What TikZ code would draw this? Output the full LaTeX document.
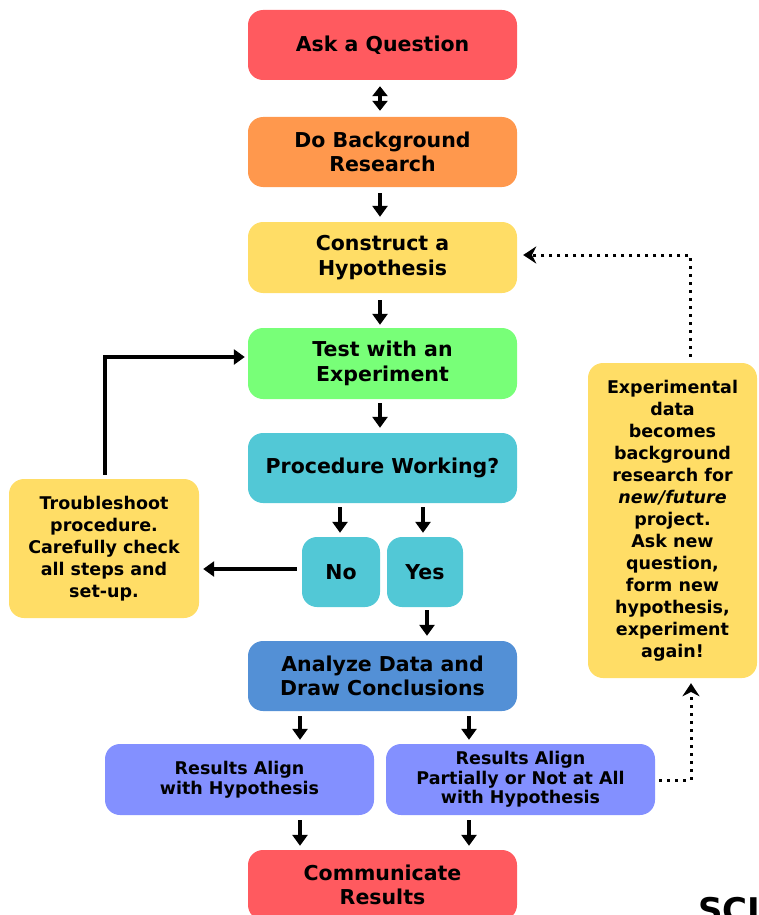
\documentclass[tikz,border=0pt]{standalone}
\usepackage{fontspec}
\setmainfont{DejaVu Sans}
\usetikzlibrary{arrows.meta,calc}
\definecolor{cRed}{RGB}{255,90,95}
\definecolor{cOrange}{RGB}{255,152,77}
\definecolor{cYellow}{RGB}{255,221,102}
\definecolor{cGreen}{RGB}{120,255,120}
\definecolor{cTeal}{RGB}{82,200,214}
\definecolor{cBlue}{RGB}{83,144,214}
\definecolor{cPeri}{RGB}{131,144,255}
\begin{document}
\begin{tikzpicture}[x=1pt,y=-1pt,
  box/.style={rounded corners=15pt, inner sep=0pt, align=center,
    font=\bfseries\fontsize{20.5}{24.5}\selectfont,
    minimum width=269pt, minimum height=70pt},
  smallbox/.style={box, font=\bfseries\fontsize{17.5}{19.5}\selectfont},
  notebox/.style={box, font=\bfseries\fontsize{17.5}{22}\selectfont},
  arr/.style={line width=3.2pt, -{Triangle[width=15pt,length=11pt]}},
  dblarr/.style={line width=3.2pt, {Triangle[width=15pt,length=10pt]}-{Triangle[width=15pt,length=10pt]}},
  dotarr/.style={line width=3pt, dash pattern=on 3pt off 5pt, -{Stealth[width=17pt,length=13pt]}}
]
\useasboundingbox (0,0) rectangle (759,915);
\clip (0,0) rectangle (759,915);

\node[box, fill=cRed] (ask) at (382.5,45) {Ask a Question};
\node[box, fill=cOrange] (bg) at (382.5,152) {Do Background\\Research};
\node[box, fill=cYellow, minimum height=71pt] (hyp) at (382.5,257.5) {Construct a\\Hypothesis};
\node[box, fill=cGreen, minimum height=71pt] (test) at (382.5,363.5) {Test with an\\Experiment};
\node[box, fill=cTeal] (proc) at (382.5,468) {Procedure Working?};
\node[box, fill=cTeal, minimum width=78pt] (no) at (341,572) {No};
\node[box, fill=cTeal, minimum width=76pt] (yes) at (425,572) {Yes};
\node[notebox, fill=cYellow, minimum width=190pt, minimum height=139pt] (trouble) at (104,548.5)
  {Troubleshoot\\procedure.\\Carefully check\\all steps and\\set-up.};
\node[box, fill=cBlue] (analyze) at (382.5,676) {Analyze Data and\\Draw Conclusions};
\node[smallbox, fill=cPeri, minimum height=71pt] (resL) at (239.5,779.5) {Results Align\\with Hypothesis};
\node[smallbox, fill=cPeri, minimum height=71pt] (resR) at (520.5,779.5) {Results Align\\Partially or Not at All\\with Hypothesis};
\node[box, fill=cRed] (comm) at (382.5,885) {Communicate\\Results};
\node[notebox, fill=cYellow, minimum width=169pt, minimum height=315pt] (exp) at (672.5,520.5)
  {Experimental\\data\\becomes\\background\\research for\\\textit{new/future}\\project.\\Ask new\\question,\\form new\\hypothesis,\\experiment\\again!};
\node[anchor=north west, inner sep=0pt, font=\bfseries\fontsize{34}{34}\selectfont] (sci) at (698,897) {SCI};

\draw[dblarr, shorten <=6pt, shorten >=6pt] ([xshift=-2.5pt]ask.south) -- ([xshift=-2.5pt]bg.north);
\draw[arr, shorten <=6pt, shorten >=5pt] ([xshift=-2.5pt]bg.south) -- ([xshift=-2.5pt]hyp.north);
\draw[arr, shorten <=7pt, shorten >=3pt] ([xshift=-2.5pt]hyp.south) -- ([xshift=-2.5pt]test.north);
\draw[arr, shorten <=4pt, shorten >=5pt] ([xshift=-2.5pt]test.south) -- ([xshift=-2.5pt]proc.north);
\draw[arr, shorten <=4pt, shorten >=4pt] ([xshift=-1pt]no.north |- proc.south) -- ([xshift=-1pt]no.north);
\draw[arr, shorten <=4pt, shorten >=4pt] ([xshift=-2pt]yes.north |- proc.south) -- ([xshift=-2pt]yes.north);
\draw[arr, shorten <=3pt, shorten >=5pt] ([xshift=2pt]yes.south) -- ([xshift=2pt]yes.south |- analyze.north);
\draw[arr, shorten <=5pt, shorten >=4pt] ([yshift=3pt]no.west) -- ([yshift=3pt]no.west -| trouble.east);
\draw[arr, shorten <=4pt, shorten >=3pt] ([xshift=1pt]trouble.north) |- ([yshift=6.5pt]test.west);
\draw[arr, shorten <=5pt, shorten >=4pt] ([xshift=-82.5pt]analyze.south) -- ([xshift=-82.5pt]analyze.south |- resL.north);
\draw[arr, shorten <=5pt, shorten >=4pt] ([xshift=86.5pt]analyze.south) -- ([xshift=86.5pt]analyze.south |- resR.north);
\draw[arr, shorten <=5pt, shorten >=4pt] ([xshift=-82.5pt]comm.north |- resL.south) -- ([xshift=-82.5pt]comm.north);
\draw[arr, shorten <=5pt, shorten >=4pt] ([xshift=86.5pt]comm.north |- resR.south) -- ([xshift=86.5pt]comm.north);
\draw[dotarr, shorten <=4pt, shorten >=5pt] ([yshift=-0.5pt]resR.east) -| ([xshift=18.5pt]exp.south);
\draw[dotarr, shorten <=6pt, shorten >=6pt] ([xshift=18pt]exp.north) |- ([yshift=2.5pt]hyp.east);
\end{tikzpicture}
\end{document}
